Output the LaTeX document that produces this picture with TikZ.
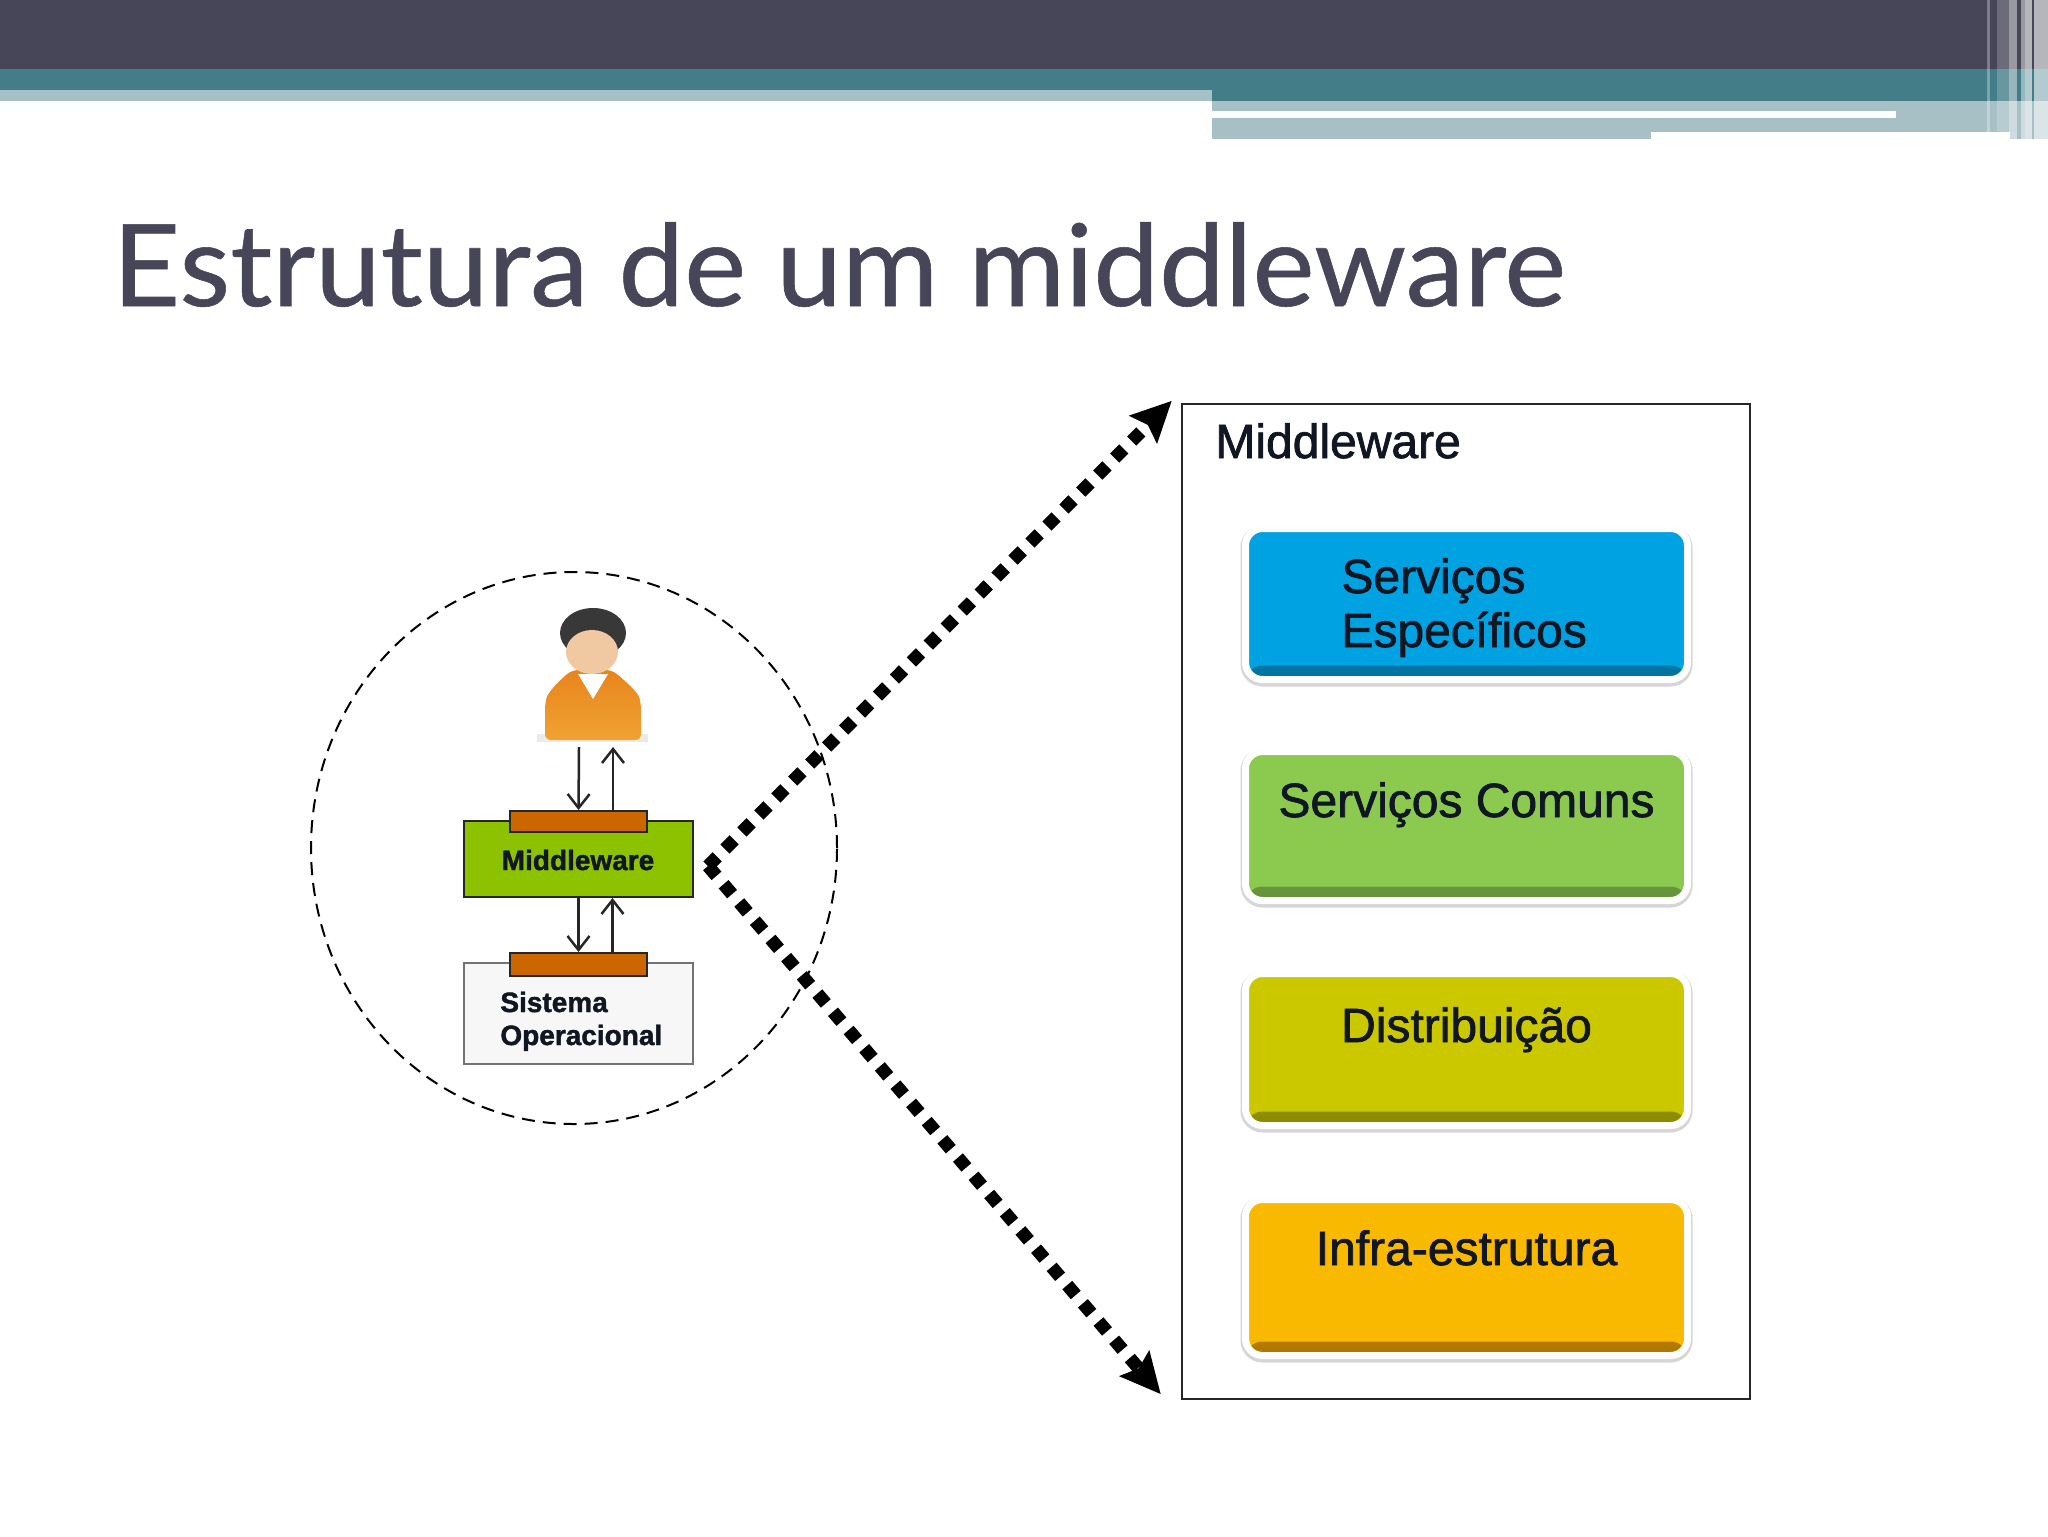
\documentclass[tikz,border=0pt]{standalone}
\usepackage{xcolor}
\usepackage{fontspec}
\setmainfont[FakeBold=1.5]{Liberation Sans}
\newfontfamily\titlefont[FakeStretch=1.03, FakeBold=0.5]{Lato}
\usetikzlibrary{arrows.meta,shapes.geometric}
\definecolor{customdark}{HTML}{464658}
\definecolor{customteal}{HTML}{437D87}
\definecolor{customlight}{HTML}{A6C0C5}
\definecolor{customtab}{HTML}{CC6600}
\definecolor{customgreen}{HTML}{8DC200}
\definecolor{customblue}{HTML}{00A2E2}
\definecolor{customblue2}{HTML}{00729F}
\definecolor{customleaf}{HTML}{8CC94F}
\definecolor{customleaf2}{HTML}{64913A}
\definecolor{customolive}{HTML}{CCC800}
\definecolor{customolive2}{HTML}{8A8700}
\definecolor{customamber}{HTML}{F8B900}
\definecolor{customamber2}{HTML}{AD7500}
\definecolor{customink}{HTML}{101622}
\definecolor{customskin}{HTML}{F0C9A2}
\definecolor{customshirt}{HTML}{E8851C}
\definecolor{customshirt2}{HTML}{F0A232}
\tikzset{
  servicebox/.style 2 args = {rectangle, rounded corners = 8.5pt, draw = white, line width = 3.5pt, fill = #1, minimum width = 221pt, inner sep = 0pt, outer sep = 0pt,
    preaction = {draw = black!16, line width = 5pt, transform canvas = {yshift = -1pt}},
    path picture = {\shade [top color = #1, bottom color = #2] ([yshift = 7pt]path picture bounding box.south west) rectangle (path picture bounding box.south east);}},
  servicetext/.style = {anchor = base, inner sep = 0pt, text = customink, font = \fontsize{24}{27}\selectfont},
  smalltext/.style = {anchor = base west, inner sep = 0pt, text = customink, font = \bfseries\fontsize{14}{16.5}\selectfont},
  tabbox/.style = {fill = customtab, draw = black!85, line width = 1pt, rectangle, minimum width = 68.5pt, inner sep = 0pt},
  flow/.style = {->, > = {Straight Barb[length = 7pt, width = 11pt]}, line width = 1.25pt, color = black!85},
  zoomlink/.style = {-{Stealth[length = 20pt, width = 19pt, inset = 3pt]}, line width = 6.5pt, dash pattern = on 6.5pt off 5.5pt, color = black}
}

\begin{document}
\begin{tikzpicture}
        \useasboundingbox (0pt, 0pt) rectangle (1024pt, -768pt);

        % Header bars
        \fill [customdark] (0pt, 0pt) rectangle (1024pt, -34.5pt);
        \fill [customteal] (0pt, -34.5pt) rectangle (1024pt, -50.5pt);
        \fill [customlight] (0pt, -45pt) rectangle (606pt, -50.5pt);
        \fill [customlight] (606pt, -50.5pt) rectangle (1024pt, -66pt);
        \fill [customlight] (606pt, -66pt) rectangle (825.5pt, -69.5pt);
        \fill [customlight] (1005pt, -66pt) rectangle (1024pt, -69.5pt);
        \fill [white] (606pt, -55.5pt) rectangle (948pt, -59pt);
        \foreach \xa/\xb/\op/\yb in {993.5/995/0.3/66, 998.5/1004.5/0.2/66, 1004.5/1008.5/0.45/69.5, 1010.5/1012.5/0.45/69.5, 1012.5/1016/0.6/69.5, 1017/1024/0.6/69.5}
            \fill [white, opacity = \op] (\xa pt, 0pt) rectangle (\xb pt, -\yb pt);

        % Title
        \node [anchor = base west, inner sep = 0pt, text = customdark, font = \titlefont\fontsize{57}{60}\selectfont] (title) at (56pt, -153pt) {Estrutura de um middleware};

        % Left side
        \node [ellipse, draw, dashed, dash pattern = on 6.5pt off 4pt, line width = 1pt, minimum width = 263pt, minimum height = 276pt, inner sep = 0pt] (lens) at (287pt, -424pt) {};
        \node [fill = customgreen, draw = black!85, line width = 1pt, rectangle, minimum width = 114.5pt, minimum height = 38pt] (mwbox) at (289.25pt, -429.5pt) {};
        \node [fill = black!3, draw = black!55, line width = 1pt, rectangle, minimum width = 114.5pt, minimum height = 50.5pt] (osbox) at (289.25pt, -506.75pt) {};
        \node [tabbox, minimum height = 10.5pt] (mwtab) at (289.25pt, -410.75pt) {};
        \node [tabbox, minimum height = 11.5pt] (ostab) at (289.25pt, -482.25pt) {};
        \node [smalltext, anchor = base] (mwlabel) at (289pt, -435pt) {Middleware};
        \node [smalltext] (oslabel1) at (250pt, -506pt) {Sistema};
        \node [smalltext] (oslabel2) at (250pt, -522.5pt) {Operacional};

        % User
        \node [minimum width = 48pt, minimum height = 38.5pt, inner sep = 0pt, outer sep = 0pt] (user) at (296.5pt, -354.25pt) {};
        \fill [black!8] (268.5pt, -367pt) rectangle (324pt, -371pt);
        \shade [top color = customshirt, bottom color = customshirt2, rounded corners = 3pt] (272.5pt, -370pt) -- (272.5pt, -352pt) .. controls (274pt, -346pt) and (280pt, -340pt) .. (286pt, -335pt) -- (306pt, -335pt) .. controls (312pt, -340pt) and (319pt, -346pt) .. (320.5pt, -352pt) -- (320.5pt, -370pt) -- cycle;
        \fill [white] (289pt, -337pt) -- (304pt, -337pt) -- (296.5pt, -349.5pt) -- cycle;
        \fill [black!78] (296.5pt, -316.5pt) ellipse (16.5pt and 12.5pt);
        \fill [customskin] (296pt, -326pt) ellipse (13pt and 11pt);

        % Links
        \draw [flow] ([xshift = -7pt]user.south) -- (mwtab.north);
        \draw [flow] ([xshift = 17.25pt]mwtab.north) -- ([xshift = 10pt]user.south);
        \draw [flow] (mwbox.south) -- (ostab.north);
        \draw [flow] ([xshift = 17pt]ostab.north) -- ([xshift = 17pt]mwbox.south);

        % Right side
        \node [draw = black!85, line width = 1.2pt, rectangle, minimum width = 284pt, minimum height = 497.5pt, fill = white] (frame) at (733pt, -450.75pt) {};
        \node [servicetext, anchor = base west] (framelabel) at (607.5pt, -229pt) {Middleware};
        \node [servicebox = {customblue}{customblue2}, minimum height = 75.5pt] (specific) at (733.25pt, -302pt) {};
        \node [servicebox = {customleaf}{customleaf2}, minimum height = 74.5pt] (common) at (733.25pt, -413pt) {};
        \node [servicebox = {customolive}{customolive2}, minimum height = 76pt] (distrib) at (733.25pt, -524.75pt) {};
        \node [servicebox = {customamber}{customamber2}, minimum height = 78pt] (infra) at (733.25pt, -638.75pt) {};
        \node [servicetext, anchor = base west] (specificlabel1) at (670.5pt, -296.5pt) {Serviços};
        \node [servicetext, anchor = base west] (specificlabel2) at (670.5pt, -323.5pt) {Específicos};
        \node [servicetext] (commonlabel) at (733.25pt, -408.5pt) {Serviços Comuns};
        \node [servicetext] (distriblabel) at (733.25pt, -521pt) {Distribuição};
        \node [servicetext] (infralabel) at (733.25pt, -632.5pt) {Infra-estrutura};

        % Zoom arrows
        \coordinate (origin) at ([shift = {(7pt, -3.5pt)}]mwbox.east);
        \coordinate (upper) at ([shift = {(-4.5pt, 1pt)}]frame.north west);
        \coordinate (lower) at ([shift = {(-10pt, 3pt)}]frame.south west);
        \draw [zoomlink] (origin) -- (upper);
        \draw [zoomlink] (origin) -- (lower);

    \end{tikzpicture}
\end{document}
